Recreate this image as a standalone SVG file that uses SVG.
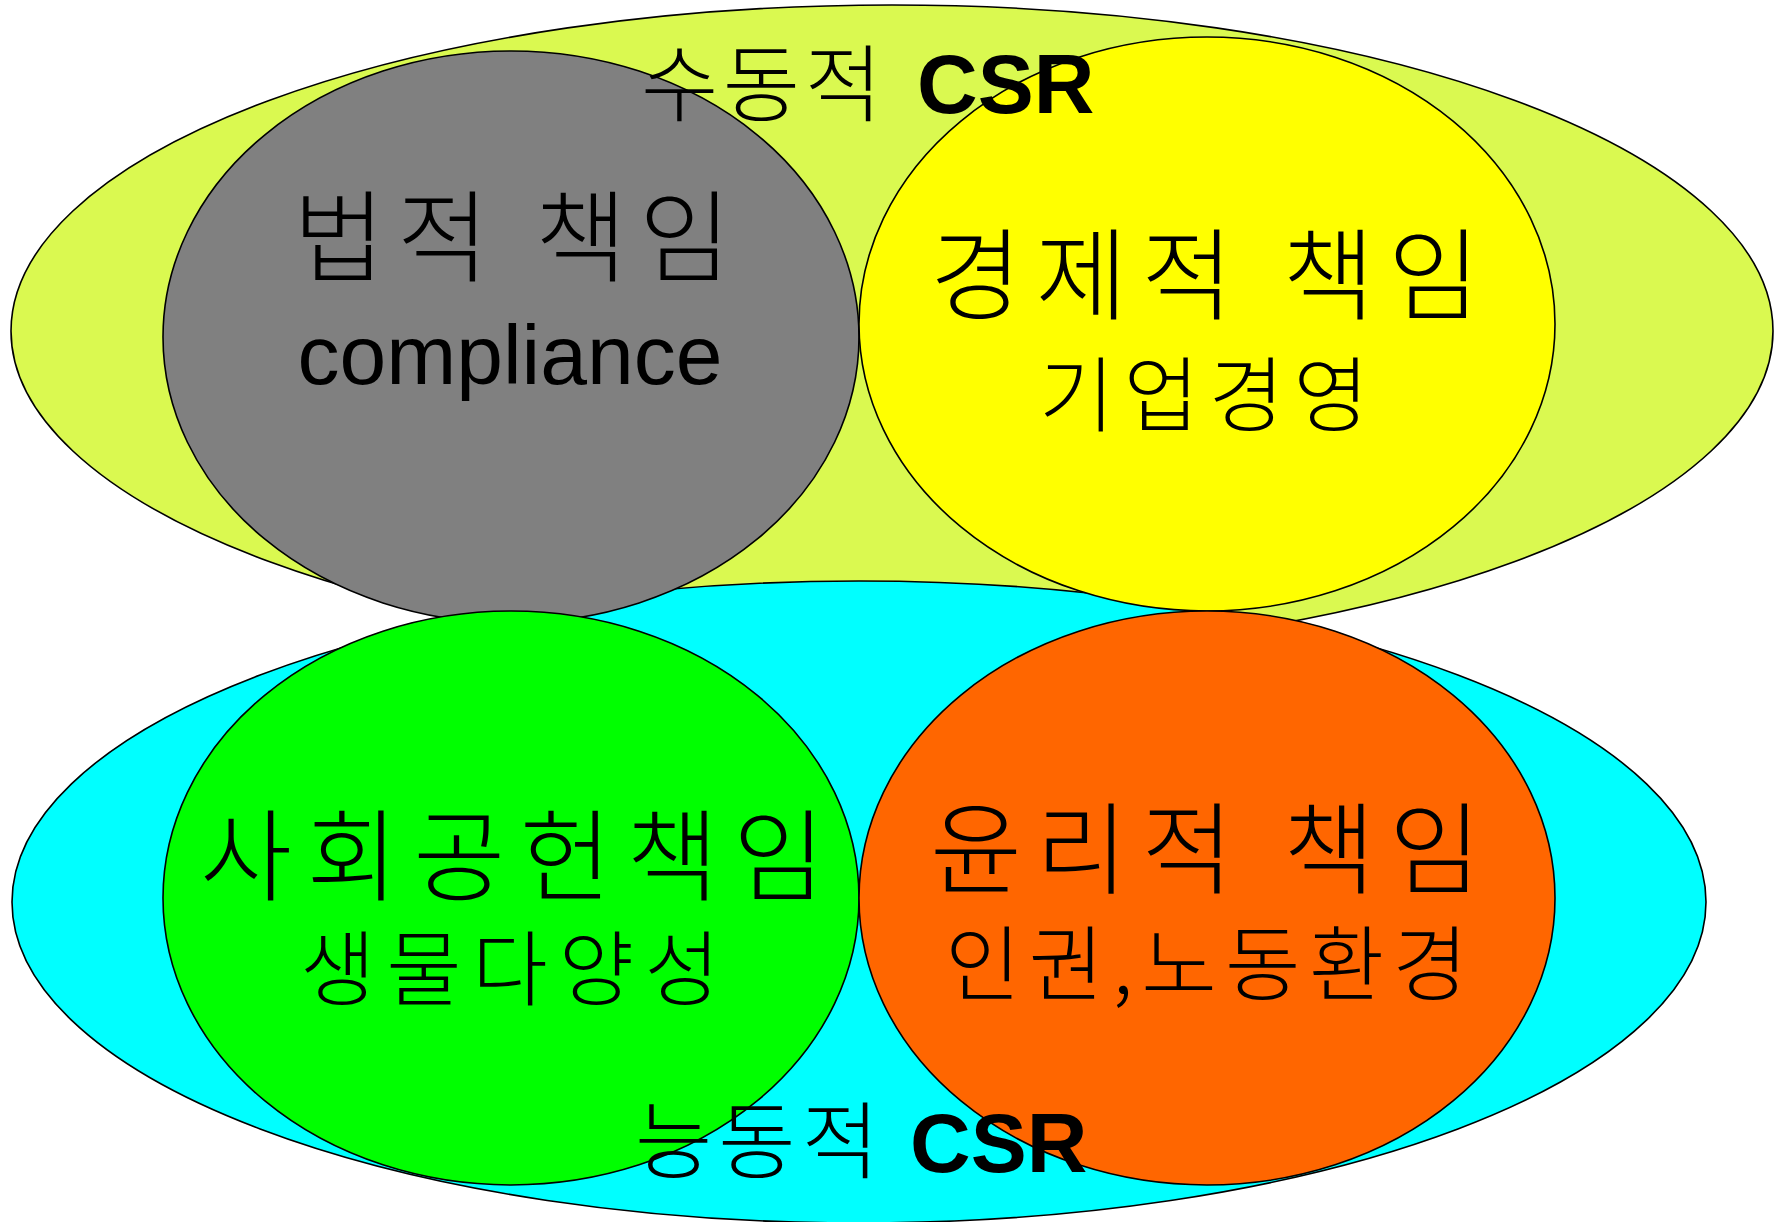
<svg xmlns="http://www.w3.org/2000/svg" width="1780" height="1222" viewBox="0 0 1780 1222">
<style>
.sh{stroke:#000;stroke-width:1.6}
.ko{font-family:"Noto Sans CJK KR","Noto Sans",sans-serif;font-weight:300;fill:#000}
.en{font-family:"Liberation Sans",Arial,sans-serif;fill:#000}
.b{font-weight:bold}
</style>
<rect width="1780" height="1222" fill="#fff"/>
<g id="passive-csr"><ellipse class="sh" cx="892" cy="331" rx="881" ry="326" fill="#DAF950"/></g>
<g id="active-csr"><ellipse class="sh" cx="859" cy="902" rx="847" ry="321" fill="#00FFFF"/></g>
<g id="legal">
<ellipse class="sh" cx="511" cy="337" rx="348" ry="286" fill="#808080"/>
<text class="ko" x="293" y="274" font-size="100" textLength="438" lengthAdjust="spacing">법적 책임</text>
<text class="en" x="510" y="384" font-size="84" text-anchor="middle">compliance</text>
</g>
<g id="economic">
<ellipse class="sh" cx="1207" cy="324" rx="348" ry="287" fill="#FFFF00"/>
<text class="ko" x="930" y="312" font-size="100" textLength="550" lengthAdjust="spacing">경제적 책임</text>
<text class="ko" x="1039" y="425" font-size="82" textLength="330" lengthAdjust="spacing">기업경영</text>
</g>
<g id="social">
<ellipse class="sh" cx="511" cy="898" rx="348" ry="287" fill="#00FF00"/>
<text class="ko" x="200" y="893" font-size="100" textLength="625" lengthAdjust="spacing">사회공헌책임</text>
<text class="ko" x="300" y="999" font-size="82" textLength="420" lengthAdjust="spacing">생물다양성</text>
</g>
<g id="ethical">
<ellipse class="sh" cx="1207" cy="898" rx="348" ry="287" fill="#FF6600"/>
<text class="ko" x="930" y="886" font-size="100" textLength="551" lengthAdjust="spacing">윤리적 책임</text>
<text class="ko" x="945" y="994" font-size="82" textLength="523" lengthAdjust="spacing">인권,노동환경</text>
</g>
<g id="label-passive">
<text class="ko" x="641" y="115" font-size="84" textLength="241" lengthAdjust="spacing">수동적</text>
<text class="en b" x="917" y="113" font-size="84">CSR</text>
</g>
<g id="label-active">
<text class="ko" x="635" y="1172" font-size="84" textLength="244" lengthAdjust="spacing">능동적</text>
<text class="en b" x="910" y="1172" font-size="84">CSR</text>
</g>
<g id="connectors"/>
</svg>
